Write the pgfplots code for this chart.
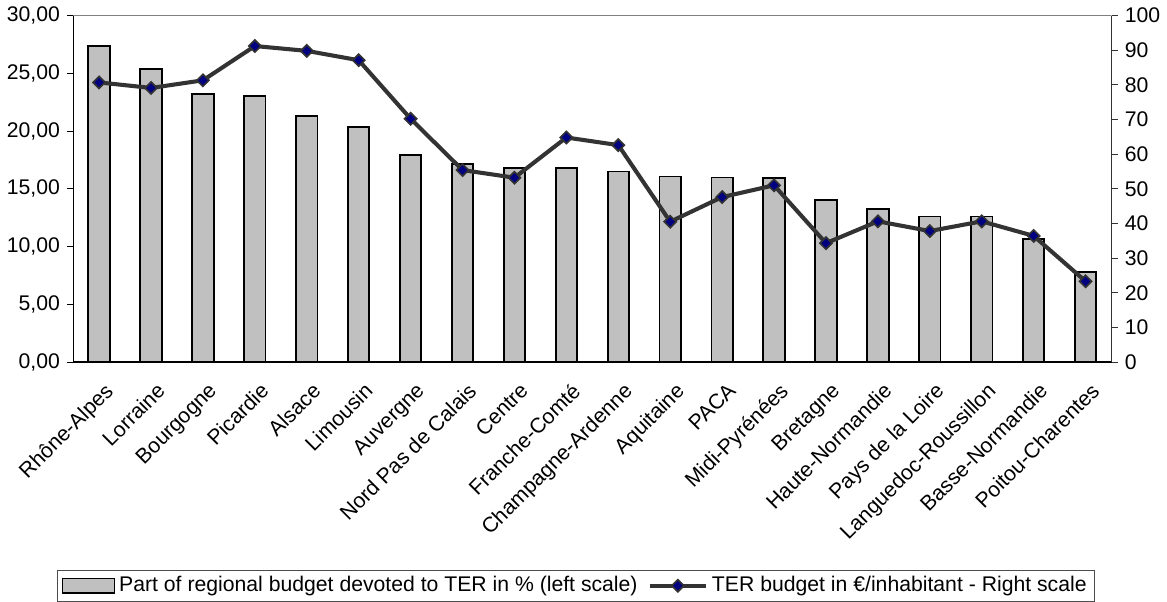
\documentclass[border=0pt]{standalone}
\usepackage{pgfplots}
\pgfplotsset{compat=1.18}
\usepackage{fontspec}
\setmainfont{Liberation Sans}

\definecolor{barfill}{RGB}{192,192,192}
\definecolor{linegray}{RGB}{51,51,51}
\definecolor{navy}{RGB}{0,0,128}

\pgfplotsset{
  common/.style={
    scale only axis,
    width=509.5pt, height=170pt,
    xmin=-0.5, xmax=19.5,
    ymin=0,
    /pgf/number format/assume math mode=true,
    tick label style={font=\fontsize{10.4}{12.5}\selectfont},
    tick align=outside,
    major tick length=3pt,
  },
  lineleg/.style={legend image code/.code={
    \draw[##1, mark repeat=2, mark phase=2] plot coordinates {(0pt,0pt) (13.75pt,0pt) (27.5pt,0pt)};}},
  barleg/.style={legend image code/.code={
    \draw[fill=barfill, draw=black, line width=0.7pt] (0pt,-3.5pt) rectangle (25.5pt,3.5pt);}},
}

\begin{document}
\begin{tikzpicture}
\begin{axis}[
  common,
  ymax=30,
  axis x line*=bottom,
  axis y line*=left,
  axis line style={black, line width=0.6pt},
  xtick={0,...,19},
  xticklabels={Rhône-Alpes,Lorraine,Bourgogne,Picardie,Alsace,Limousin,Auvergne,Nord Pas de Calais,Centre,Franche-Comté,Champagne-Ardenne,Aquitaine,PACA,Midi-Pyrénées,Bretagne,Haute-Normandie,Pays de la Loire,Languedoc-Roussillon,Basse-Normandie,Poitou-Charentes},
  x tick style={draw=none},
  minor xtick={-0.5,0.5,...,19.5},
  minor x tick style={black, line width=0.5pt},
  minor tick length=3pt,
  xticklabel style={rotate=45, anchor=north east, inner sep=1pt, yshift=-5pt, xshift=-2pt},
  ytick={0,5,...,30},
  y tick style={black, line width=0.5pt},
  yticklabel style={/pgf/number format/.cd, fixed, fixed zerofill, precision=2, use comma},
]
\addplot[ybar, bar width=10.5pt, fill=barfill, draw=black, line width=0.9pt] coordinates {
  (0,27.36) (1,25.35) (2,23.24) (3,23.06) (4,21.30) (5,20.33) (6,17.90)
  (7,17.15) (8,16.80) (9,16.77) (10,16.50) (11,16.06) (12,15.97) (13,15.95)
  (14,14.03) (15,13.27) (16,12.60) (17,12.60) (18,10.65) (19,7.77)
};
\draw[gray, line width=0.8pt] (rel axis cs:0,1) -- (rel axis cs:1,1);
\end{axis}
\begin{axis}[
  common,
  ymax=100,
  axis x line=none,
  axis y line*=right,
  axis line style={linegray, line width=0.6pt},
  ytick={0,10,...,100},
  y tick style={linegray, line width=0.5pt},
  legend style={at={(0.4845,-0.6)}, anchor=north, legend columns=2,
    draw=black!70, line width=0.5pt, font=\fontsize{10.4}{12.5}\selectfont,
    inner xsep=2pt, inner ysep=1pt,
    nodes={inner xsep=2pt, inner ysep=2pt},
    /tikz/every even column/.append style={column sep=3pt}},
  legend cell align=left,
]
\addlegendimage{barleg}
\addlegendentry{Part of regional budget devoted to TER in \% (left scale)}
\addplot[linegray, line width=2pt, mark=square*, lineleg,
  mark options={fill=navy, draw=linegray, line width=0.8pt, rotate=45, mark size=2.1pt}]
  coordinates {
  (0,80.7) (1,79.1) (2,81.3) (3,91.2) (4,89.8) (5,87.1) (6,70.2)
  (7,55.4) (8,53.2) (9,64.8) (10,62.6) (11,40.5) (12,47.6) (13,51.0)
  (14,34.3) (15,40.6) (16,37.8) (17,40.6) (18,36.4) (19,23.3)
};
\addlegendentry{TER budget in €/inhabitant - Right scale}
\end{axis}
\end{tikzpicture}
\end{document}
